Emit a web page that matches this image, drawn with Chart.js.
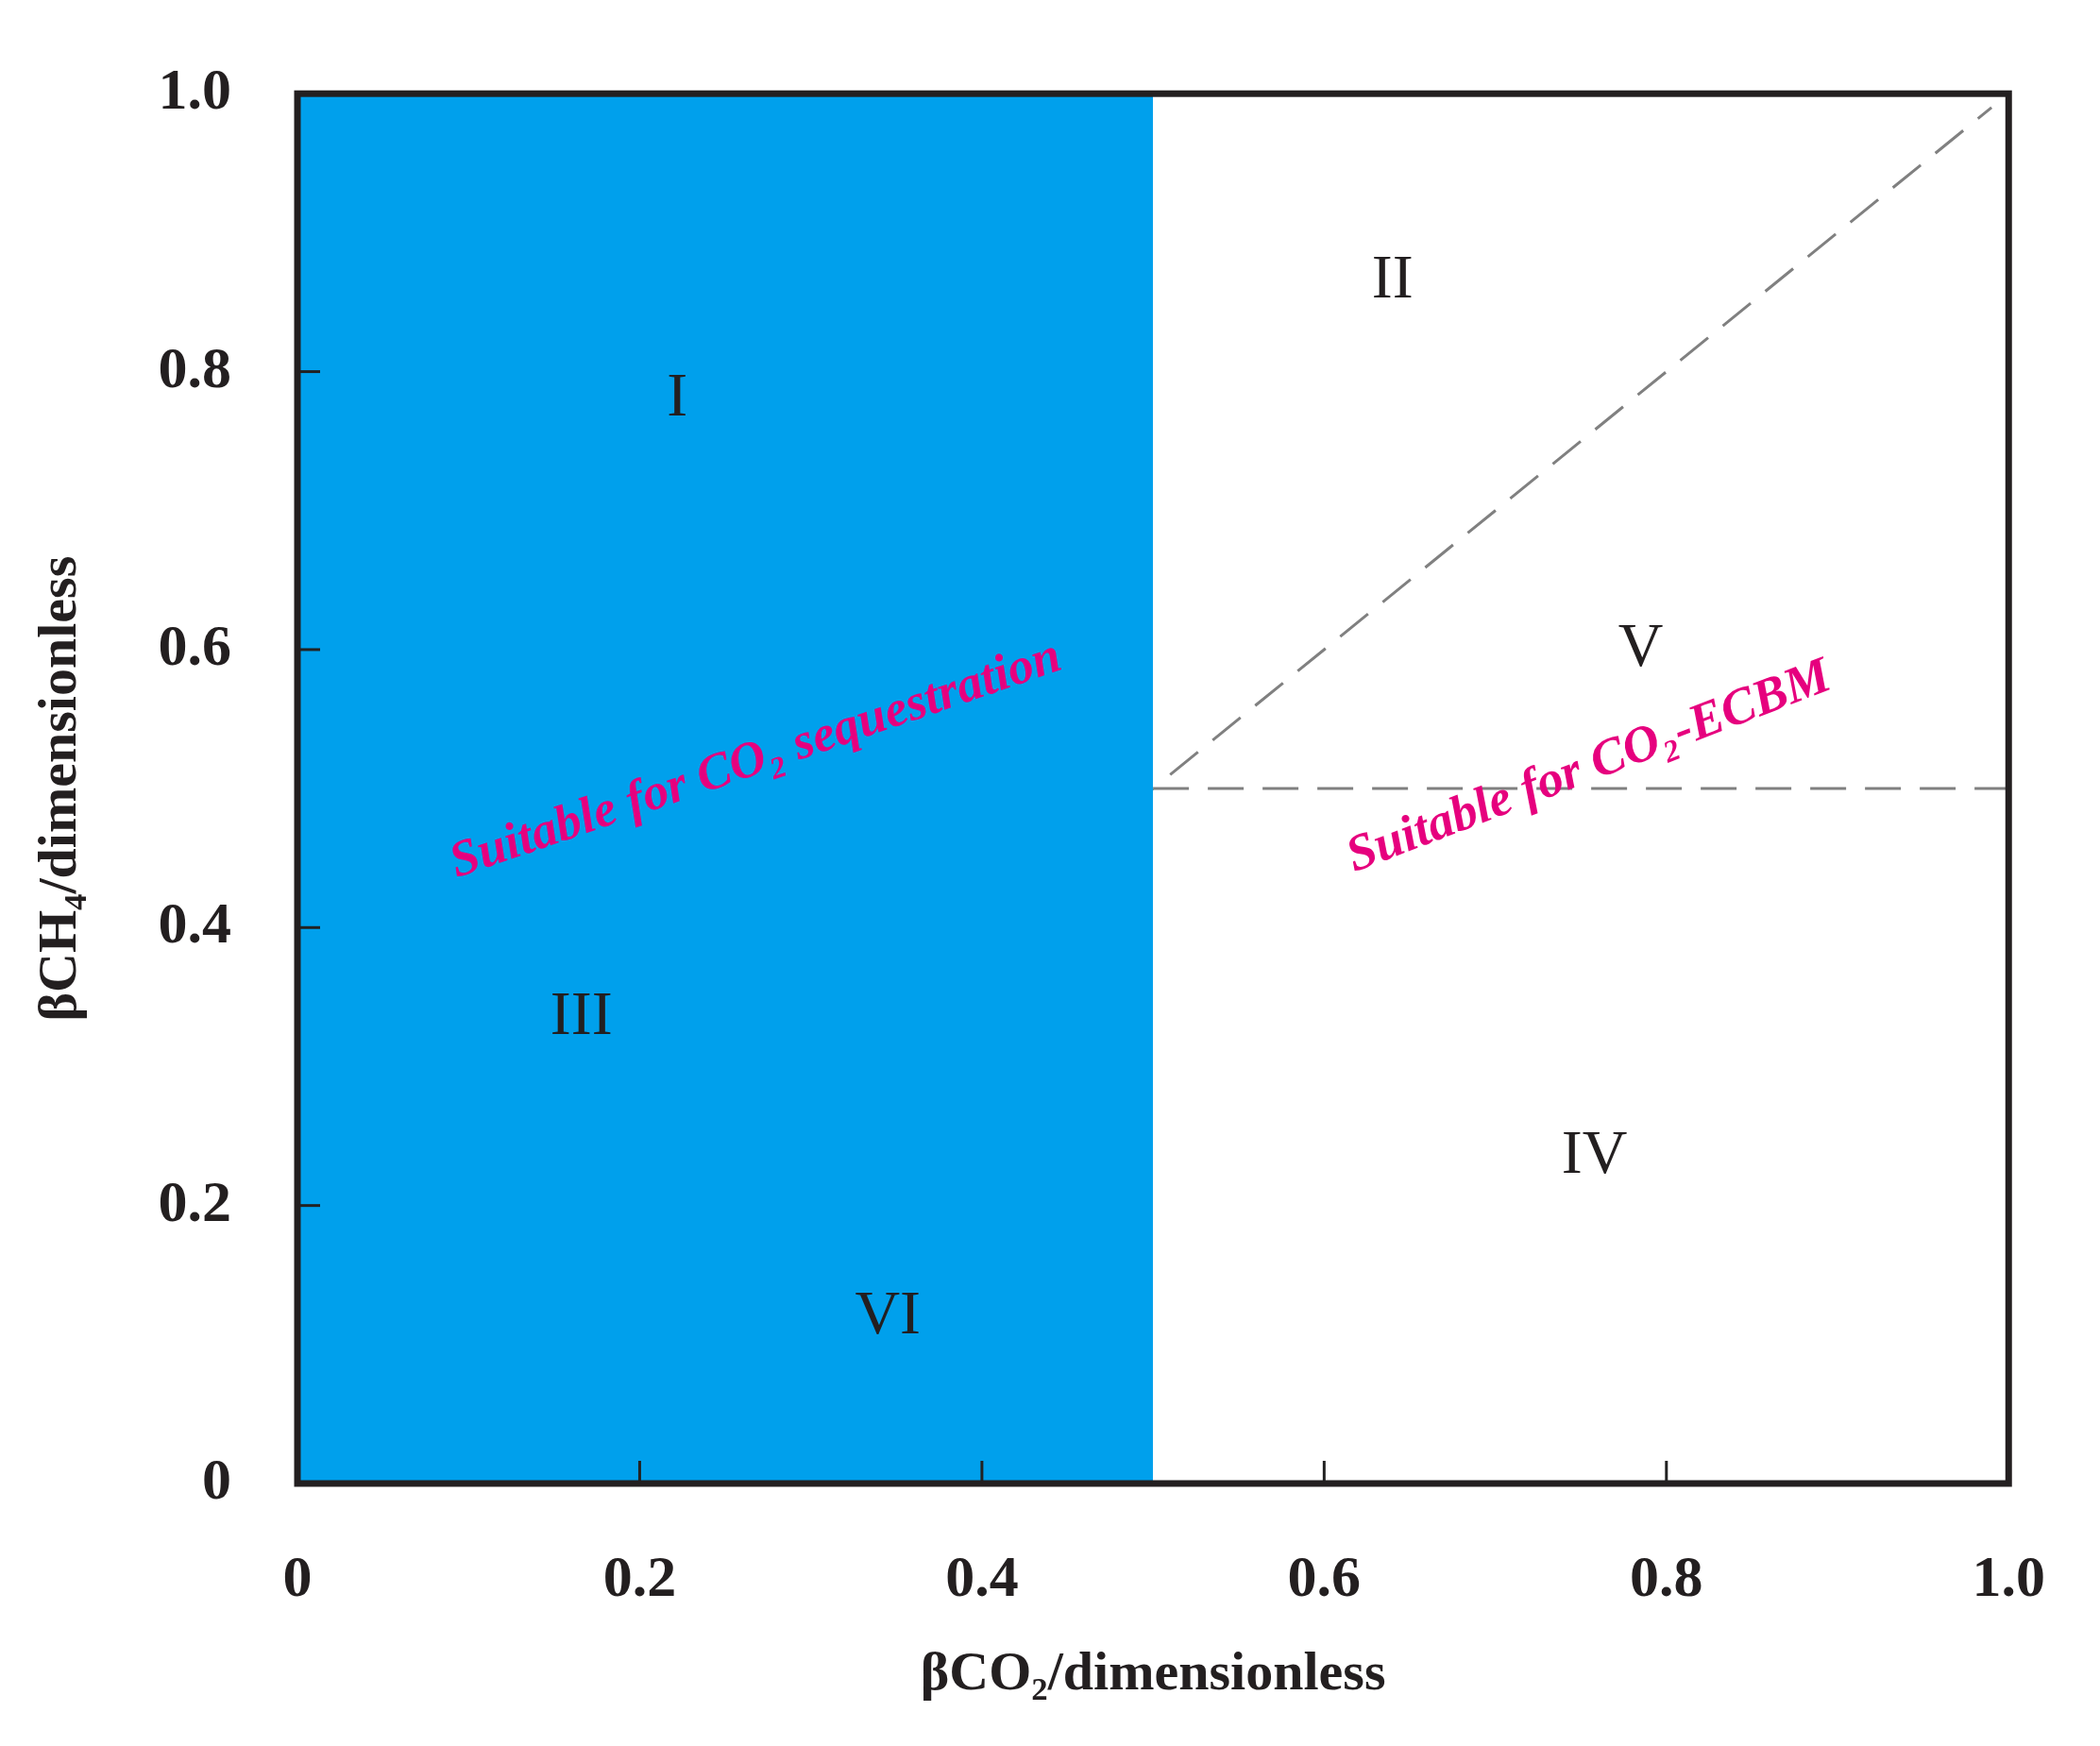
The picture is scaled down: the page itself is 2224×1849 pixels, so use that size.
<!DOCTYPE html>
<html><head><meta charset="utf-8">
<script src="https://cdn.jsdelivr.net/npm/chart.js@4"></script>
<style>html,body{margin:0;padding:0;background:#fff}canvas{display:block}</style>
</head><body>
<div style="width:2224px;height:1849px"><canvas id="c"></canvas></div>
<script>
const tickValues = [0, 0.2, 0.4, 0.6, 0.8, 1.0];
const blueRegion = [{x:0,y:1},{x:0.5,y:1}];
const hLineLeft = [{x:0,y:0.5},{x:0.5,y:0.5}];
const hLineRight = [{x:0.5,y:0.5},{x:1,y:0.5}];
const diagLeft = [{x:0,y:0},{x:0.5,y:0.5}];
const diagRight = [{x:0.51,y:0.51},{x:0.99,y:0.99}];
const regionLabels = [
  {t:'I', x:0.222, y:0.78}, {t:'II', x:0.64, y:0.865}, {t:'III', x:0.166, y:0.335},
  {t:'IV', x:0.758, y:0.235}, {t:'V', x:0.785, y:0.6}, {t:'VI', x:0.345, y:0.12}
];
const slantLabels = [
  {t:'Suitable for CO₂ sequestration', x:0.268, y:0.52, angle:-19},
  {t:'Suitable for CO₂-ECBM', x:0.755, y:0.515, angle:-21}
];
const teal = '#2b8c9c', gray = '#808080';
const dash = [38, 20];

const overlay = {
  id:'overlay',
  afterDatasetsDraw(chart){
    const {ctx, chartArea:a, scales:{x,y}} = chart;
    ctx.save();
    // inner ticks
    ctx.strokeStyle='#222'; ctx.lineWidth=3;
    tickValues.forEach(v=>{
      const px=x.getPixelForValue(v), py=y.getPixelForValue(v);
      ctx.beginPath(); ctx.moveTo(px,a.bottom); ctx.lineTo(px,a.bottom-24); ctx.stroke();
      ctx.beginPath(); ctx.moveTo(a.left,py); ctx.lineTo(a.left+24,py); ctx.stroke();
    });
    // frame
    ctx.strokeStyle='#231f20'; ctx.lineWidth=7;
    ctx.strokeRect(a.left,a.top,a.right-a.left,a.bottom-a.top);
    // region labels
    ctx.fillStyle='#231f20'; ctx.font='66px "Liberation Serif"';
    ctx.textAlign='center'; ctx.textBaseline='middle';
    regionLabels.forEach(l=>ctx.fillText(l.t,x.getPixelForValue(l.x),y.getPixelForValue(l.y)));
    // slanted labels
    ctx.fillStyle='#e6007e'; ctx.font='bold italic 54px "Liberation Serif"';
    slantLabels.forEach(l=>{
      ctx.save();
      ctx.translate(x.getPixelForValue(l.x),y.getPixelForValue(l.y));
      ctx.rotate(l.angle*Math.PI/180);
      ctx.fillText(l.t,0,0);
      ctx.restore();
    });
    ctx.restore();
  }
};

const lineDs = (data,color)=>({data,borderColor:color,borderWidth:3,borderDash:dash,pointRadius:0,showLine:true,fill:false});

new Chart(document.getElementById('c'),{
  type:'scatter',
  data:{datasets:[
    {data:blueRegion,showLine:true,borderWidth:0,pointRadius:0,fill:'origin',backgroundColor:'#00a0ec',borderColor:'#00a0ec'},
    lineDs(hLineLeft,teal), lineDs(hLineRight,gray),
    lineDs(diagLeft,teal), lineDs(diagRight,gray)
  ]},
  options:{
    responsive:true, maintainAspectRatio:false, animation:false,
    layout:{padding:{top:94,right:58,left:0,bottom:0}},
    plugins:{legend:{display:false},tooltip:{enabled:false}},
    scales:{
      x:{type:'linear',min:0,max:1,
        afterBuildTicks(s){s.ticks=tickValues.map(v=>({value:v}));},
        afterFit(s){s.height=278;},
        grid:{display:false},border:{display:false},
        ticks:{padding:58,color:'#231f20',font:{family:'Liberation Serif',weight:'bold',size:62},
          callback:v=>v===0?'0':v.toFixed(1)},
        title:{display:true,text:'βCO₂/dimensionless',color:'#231f20',padding:{top:10,bottom:40},
          font:{family:'Liberation Serif',weight:'bold',size:58}}},
      y:{type:'linear',min:0,max:1,
        afterBuildTicks(s){s.ticks=tickValues.map(v=>({value:v}));},
        afterFit(s){s.width=315;},
        grid:{display:false},border:{display:false},
        ticks:{padding:62,color:'#231f20',font:{family:'Liberation Serif',weight:'bold',size:62},
          callback:v=>v===0?'0':v.toFixed(1)},
        title:{display:true,text:'βCH₄/dimensionless',color:'#231f20',padding:{top:30,bottom:0},
          font:{family:'Liberation Serif',weight:'bold',size:58}}}
    }
  },
  plugins:[overlay]
});
</script>
</body></html>
